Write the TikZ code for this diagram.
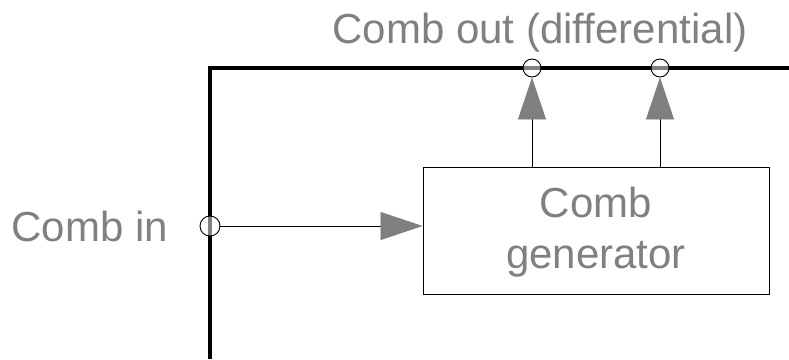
\documentclass[tikz,border=0pt]{standalone}
\usepackage{fontspec}
\setmainfont{Liberation Sans}
\usetikzlibrary{arrows.meta}
\definecolor{txtgray}{HTML}{808080}
\definecolor{tipgray}{HTML}{7F7F7F}
\tikzset{
  frame/.style={line width=4pt, line join=miter},
  port/.style={circle, draw=black, line width=0.9pt, fill=white, fill opacity=0.5, inner sep=0pt, minimum size=18pt},
  genbox/.style={draw=black, line width=1pt, minimum width=346pt, minimum height=127pt},
  lbl/.style={text=txtgray, font=\fontsize{42}{51}\selectfont, inner sep=0pt, align=center},
  sig/.style={line width=0.9pt, -{Triangle[length=42pt,width=28pt,color=tipgray]}}
}
\begin{document}
\begin{tikzpicture}[x=1pt,y=-1pt]
\useasboundingbox (0,0) rectangle (789,359);
\coordinate (fb) at (210,359);
\coordinate (fc) at (210,68);
\coordinate (fr) at (789,68);
\draw[frame] (fb) -- (fc) -- (fr);
\node[genbox] (gen) at (596,230.5) {};
\node[lbl] (gentext) at (596,232) {Comb\\generator};
\node[port] (p1) at (532,68) {};
\node[port] (p2) at (660,68) {};
\node[port, minimum size=20pt] (pin) at (210,226) {};
\draw[sig] (gen.north -| p1) -- (p1.south);
\draw[sig] (gen.north -| p2) -- (p2.south);
\draw[sig] (pin.east) -- (pin.east -| gen.west);
\node[lbl, anchor=base] (outl) at (540,43) {Comb out (differential)};
\node[lbl, anchor=east] (inl) at (168,226) {Comb in};
\end{tikzpicture}
\end{document}
